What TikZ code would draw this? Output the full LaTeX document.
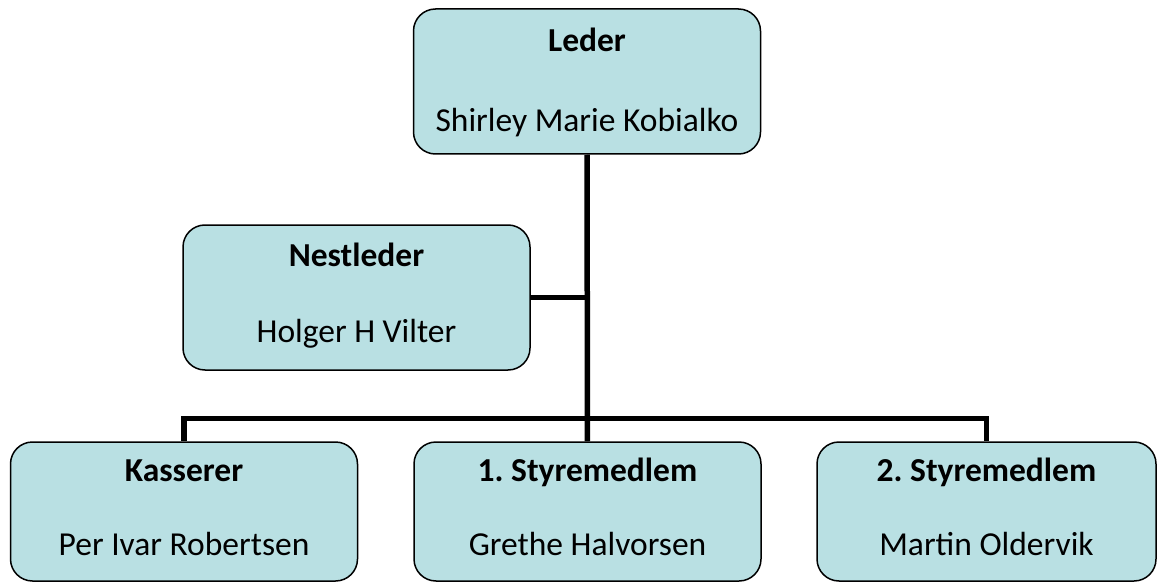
\documentclass[tikz,border=0pt]{standalone}
\usepackage{fontspec}
\setmainfont{Carlito}
\usetikzlibrary{calc}
\definecolor{BoksBla}{RGB}{185,224,227}
\frenchspacing

\begin{document}
\begin{tikzpicture}[x=1pt,y=-1pt,
  boks/.style={draw,line width=1.5pt,fill=BoksBla,rounded corners=22pt,
    minimum width=347pt,minimum height=145pt,inner sep=0pt},
  lav/.style={boks,minimum height=139pt},
  tittel/.style={anchor=base,font=\fontsize{33.5}{40}\selectfont\bfseries},
  navn/.style={anchor=base,font=\fontsize{33.5}{40}\selectfont},
  linje/.style={line width=5.5pt}]
\useasboundingbox (0,0) rectangle (1157,583);
% boksene
\node[boks] (leder) at (587,81.5) {};
\node[boks] (nest) at (356.5,297.5) {};
\node[lav] (kass) at (184,511.5) {};
\node[lav] (styre1) at (587.5,511.5) {};
\node[lav,minimum width=339pt] (styre2) at (986.5,511.5) {};
% tekst
\node[tittel] (lederT) at ($(leder.north)+(0,43)$) {Leder};
\node[navn] (lederN) at ($(leder.north)+(0,123)$) {Shirley Marie Kobialko};
\node[tittel] (nestT) at ($(nest.north)+(0,42)$) {Nestleder};
\node[navn] (nestN) at ($(nest.north)+(0,118)$) {Holger H Vilter};
\node[tittel] (kassT) at ($(kass.north)+(0,40)$) {Kasserer};
\node[navn] (kassN) at ($(kass.north)+(0,114)$) {Per Ivar Robertsen};
\node[tittel] (styre1T) at ($(styre1.north)+(0,40)$) {1. Styremedlem};
\node[navn] (styre1N) at ($(styre1.north)+(0,114)$) {Grethe Halvorsen};
\node[tittel] (styre2T) at ($(styre2.north)+(0,40)$) {2. Styremedlem};
\node[navn] (styre2N) at ($(styre2.north)+(0,114)$) {Martin Oldervik};
% linjer
\draw[linje] (leder) -- (styre1);
\draw[linje] (nest.east) -- (nest.east -| leder.south);
\draw[linje] (kass.north) -- ++(0,-23) -| (styre2.north);
\end{tikzpicture}
\end{document}
